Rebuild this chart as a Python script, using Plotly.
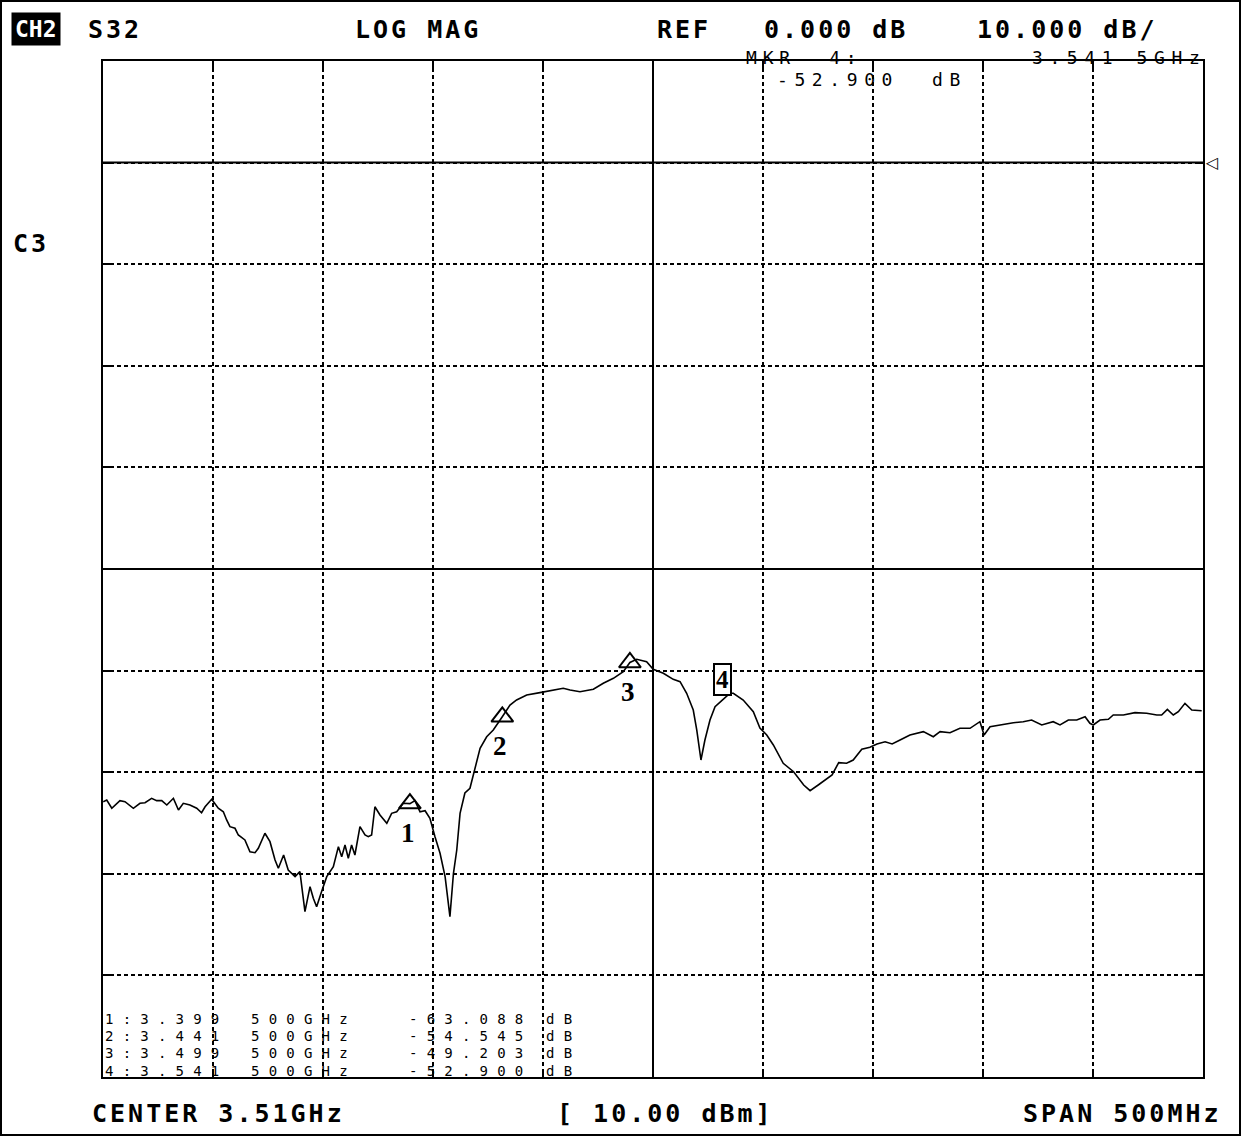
import plotly.graph_objects as go

# ---------------- data ----------------
FREQ_MHZ = [
    3260.1, 3261.7, 3264.0, 3267.7, 3270.0, 3273.8, 3276.8, 3279.1, 3282.1, 3284.4,
    3286.7, 3289.0, 3292.0, 3294.3, 3296.5, 3299.5, 3302.6, 3304.8, 3306.4, 3309.4,
    3312.4, 3314.7, 3316.2, 3317.7, 3320.0, 3321.5, 3324.5, 3326.8, 3329.1, 3330.6,
    3333.6, 3335.9, 3338.2, 3339.7, 3342.1, 3344.2, 3347.3, 3349.5, 3351.8, 3354.1,
    3355.6, 3357.1, 3359.6, 3361.7, 3364.7, 3367.0, 3368.5, 3370.0, 3371.5, 3373.0,
    3374.5, 3376.8, 3379.1, 3380.6, 3382.1, 3383.6, 3385.9, 3389.0, 3391.2, 3393.5,
    3396.5, 3399.5, 3401.8, 3404.1, 3406.4, 3408.6, 3410.9, 3413.2, 3415.5, 3417.0,
    3417.7, 3419.3, 3420.8, 3422.3, 3424.5, 3426.8, 3429.1, 3431.4, 3434.4, 3437.4,
    3441.5, 3445.0, 3448.0, 3452.6, 3458.6, 3464.7, 3469.2, 3472.3, 3476.8, 3482.9,
    3487.4, 3492.0, 3496.5, 3499.5, 3502.6, 3507.1, 3510.1, 3514.7, 3519.2, 3522.3,
    3525.3, 3528.3, 3529.9, 3531.8, 3533.6, 3535.9, 3538.2, 3541.5, 3545.0, 3546.5,
    3551.0, 3555.6, 3558.6, 3561.7, 3564.7, 3569.2, 3573.9, 3578.5, 3581.4, 3585.1,
    3591.4, 3594.4, 3598.0, 3601.0, 3604.9, 3608.6, 3611.8, 3615.5, 3618.7, 3622.3,
    3626.8, 3632.9, 3637.4, 3640.5, 3645.0, 3649.5, 3654.1, 3658.6, 3660.5, 3663.2,
    3667.7, 3673.8, 3678.3, 3682.1, 3686.7, 3691.9, 3695.0, 3698.8, 3702.6, 3706.4,
    3708.6, 3710.1, 3713.2, 3717.0, 3719.2, 3723.8, 3729.1, 3734.4, 3739.0, 3741.2,
    3743.8, 3746.5, 3748.8, 3751.8, 3754.9, 3759.4,
]
S32_DB = [
    -62.90, -62.74, -63.55, -62.80, -62.90, -63.55, -63.06, -63.00, -62.57, -62.80,
    -62.80, -63.23, -62.57, -63.72, -63.06, -63.23, -63.55, -63.99, -63.40, -62.67,
    -63.55, -63.89, -64.70, -65.36, -65.52, -66.18, -66.67, -67.83, -67.92, -67.49,
    -66.01, -66.84, -68.64, -69.46, -68.15, -69.63, -70.28, -69.79, -73.73, -71.27,
    -72.41, -73.24, -71.59, -70.28, -69.30, -67.33, -68.32, -67.17, -68.47, -67.17,
    -68.15, -65.36, -66.18, -66.35, -66.18, -63.40, -64.21, -65.03, -64.05, -63.89,
    -63.06, -63.09, -62.80, -63.89, -63.79, -64.54, -66.35, -67.98, -70.28, -73.24,
    -74.22, -69.95, -67.66, -64.05, -62.05, -61.58, -59.49, -57.65, -56.51, -55.85,
    -54.54, -53.39, -52.89, -52.40, -52.17, -51.91, -51.74, -51.91, -52.08, -51.84,
    -51.25, -50.76, -50.11, -49.20, -48.89, -49.12, -49.87, -50.27, -50.86, -51.09,
    -52.23, -53.88, -55.85, -58.80, -56.83, -54.86, -53.55, -52.90, -52.23, -52.23,
    -52.90, -54.05, -55.65, -56.34, -57.32, -59.12, -59.95, -61.26, -61.82, -61.26,
    -60.27, -59.06, -59.12, -58.80, -57.74, -57.55, -57.22, -57.00, -57.22, -56.83,
    -56.34, -56.01, -56.51, -56.01, -56.11, -55.68, -55.68, -55.03, -56.34, -55.52,
    -55.35, -55.13, -55.03, -54.86, -55.35, -55.03, -55.35, -54.86, -54.86, -54.54,
    -55.19, -55.35, -54.86, -54.79, -54.37, -54.37, -54.14, -54.20, -54.37, -54.37,
    -53.81, -54.37, -54.04, -53.22, -53.88, -53.95,
]

MARKER_IDS = ["1", "2", "3", "4"]
MARKER_FREQ_MHZ = [3399.5, 3441.5, 3499.5, 3541.5]
MARKER_DB = [-63.088, -54.545, -49.203, -52.900]
MARKER_FREQ_TXT = ["3.399", "3.441", "3.499", "3.541"]
MARKER_FREQ_UNIT = ["500GHz", "500GHz", "500GHz", "500GHz"]
MARKER_DB_TXT = ["-63.088", "-54.545", "-49.203", "-52.900"]
ACTIVE_MARKER = 3  # index of marker 4
ACTIVE_FREQ_TXT = "3.541 5GHz"

CENTER_MHZ = 3510.0
SPAN_MHZ = 500.0
REF_DB = 0.0
SCALE_DB = 10.0
REF_POS_DIV = 9          # reference line position (divisions from bottom)
N_DIV = 10

# ---------------- layout constants ----------------
W, H = 1241, 1136
L, R, T, B = 103, 38, 61, 59
PW, PH = W - L - R, H - T - B


def px(x):
    return (x - L) / PW


def py(y):
    return 1 - (y - T) / PH


f_lo = CENTER_MHZ - SPAN_MHZ / 2
f_hi = CENTER_MHZ + SPAN_MHZ / 2
y_hi = REF_DB + (N_DIV - REF_POS_DIV) * SCALE_DB
y_lo = REF_DB - REF_POS_DIV * SCALE_DB
y_mid = (y_hi + y_lo) / 2

MONO = "DejaVu Sans Mono"


def spaced(text, ls):
    return f'<span style="letter-spacing:{ls}px">{text}</span>'


fig = go.Figure()

fig.add_trace(go.Scatter(
    x=FREQ_MHZ, y=S32_DB, mode="lines",
    line=dict(color="black", width=1.6), hoverinfo="skip", showlegend=False,
))

# triangle markers 1..3
tri_idx = [i for i in range(len(MARKER_IDS)) if i != ACTIVE_MARKER]
fig.add_trace(go.Scatter(
    x=[MARKER_FREQ_MHZ[i] for i in tri_idx],
    y=[MARKER_DB[i] for i in tri_idx],
    mode="markers",
    marker=dict(symbol="triangle-up-open", size=19, color="black",
                line=dict(color="black", width=2)),
    hoverinfo="skip", showlegend=False, cliponaxis=False,
))

ann = []
for i in tri_idx:
    ann.append(dict(x=MARKER_FREQ_MHZ[i], y=MARKER_DB[i], xref="x", yref="y",
                    text=f"<b>{MARKER_IDS[i]}</b>", showarrow=False, yshift=-29,
                    xshift=-2,
                    font=dict(family="Liberation Serif", size=27, color="black")))
ann.append(dict(x=MARKER_FREQ_MHZ[ACTIVE_MARKER], y=MARKER_DB[ACTIVE_MARKER],
                xref="x", yref="y", text=f"<b>{MARKER_IDS[ACTIVE_MARKER]}</b>",
                showarrow=False, yshift=21, bordercolor="black", borderwidth=2,
                borderpad=1, bgcolor="white",
                font=dict(family="Liberation Serif", size=25, color="black")))

# header
hdr = dict(family=MONO, size=25, color="black")
ann.append(dict(x=px(11), y=py(29), xref="paper", yref="paper", xanchor="left",
                yanchor="middle", text="<b>CH2</b>", showarrow=False,
                bgcolor="black", borderpad=3,
                font=dict(family=MONO, size=23, color="white")))
for txt, xl, ls in [("S32", 86, 3), ("LOG MAG", 353, 3), ("REF", 655, 3),
                    ("0.000 dB", 762, 3), ("10.000 dB/", 975, 3)]:
    ann.append(dict(x=px(xl), y=py(29), xref="paper", yref="paper", xanchor="left",
                    yanchor="middle", text=spaced(f"<b>{txt}</b>", ls),
                    showarrow=False, font=hdr))

thin = dict(family=MONO, size=18, color="black")
TLS = 6.6
# active marker readout
ann.append(dict(x=px(744), y=py(57), xref="paper", yref="paper", xanchor="left",
                yanchor="middle", text=spaced(f"MKR  {MARKER_IDS[ACTIVE_MARKER]}:", 5.8),
                showarrow=False, font=thin))
ann.append(dict(x=px(1208), y=py(57), xref="paper", yref="paper", xanchor="right",
                yanchor="middle", text=spaced(ACTIVE_FREQ_TXT, TLS),
                showarrow=False, font=thin))
ann.append(dict(x=px(775), y=py(80), xref="paper", yref="paper", xanchor="left",
                yanchor="middle", text=spaced(MARKER_DB_TXT[ACTIVE_MARKER], TLS),
                showarrow=False, font=thin))
ann.append(dict(x=px(930), y=py(80), xref="paper", yref="paper", xanchor="left",
                yanchor="middle", text=spaced("dB", TLS),
                showarrow=False, font=thin))

# channel label
ann.append(dict(x=px(11), y=py(243), xref="paper", yref="paper", xanchor="left",
                yanchor="middle", text=spaced("<b>C3</b>", 3), showarrow=False, font=hdr))

# marker table
row_y = [1019, 1036, 1053, 1071]
tbl = dict(family=MONO, size=14, color="black")
for i in range(len(MARKER_IDS)):
    for txt, xl in [(f"{MARKER_IDS[i]}:{MARKER_FREQ_TXT[i]}", 104),
                    (MARKER_FREQ_UNIT[i], 250),
                    (MARKER_DB_TXT[i], 408),
                    ("dB", 545)]:
        ann.append(dict(x=px(xl), y=py(row_y[i]), xref="paper", yref="paper",
                        xanchor="left", yanchor="middle", text=spaced(txt, 9.2),
                        showarrow=False, borderpad=0, font=tbl))

# footer
for txt, xl, anchor in [("CENTER 3.51GHz", 90, "left"), ("[ 10.00 dBm]", 555, "left"),
                        ("SPAN 500MHz", 1224, "right")]:
    ann.append(dict(x=px(xl), y=py(1113), xref="paper", yref="paper", xanchor=anchor,
                    yanchor="middle", text=spaced(f"<b>{txt}</b>", 3), showarrow=False,
                    font=hdr))

# reference position indicator
ann.append(dict(x=1, y=REF_DB, xref="paper", yref="y", xanchor="left", yanchor="middle",
                xshift=0, text="<b>◁</b>", showarrow=False,
                font=dict(family="DejaVu Sans", size=16, color="black")))

shapes = [
    # solid reference line and centre graticule lines
    dict(type="line", xref="paper", x0=0, x1=1, yref="y", y0=REF_DB, y1=REF_DB,
         line=dict(color="black", width=2)),
    dict(type="line", xref="paper", x0=0, x1=1, yref="y", y0=y_mid, y1=y_mid,
         line=dict(color="black", width=2)),
    dict(type="line", xref="x", x0=CENTER_MHZ, x1=CENTER_MHZ, yref="paper", y0=0, y1=1,
         line=dict(color="black", width=2)),
    # outer frame of the screen
    dict(type="rect", xref="paper", yref="paper", x0=px(1), x1=px(W - 1), y0=py(H - 1),
         y1=py(1), line=dict(color="black", width=2), layer="below"),
]

axis_common = dict(
    showgrid=True, gridcolor="black", gridwidth=2, griddash="4px,3px",
    zeroline=False, showline=True, linecolor="black", linewidth=2, mirror="ticks",
    ticks="inside", ticklen=7, tickwidth=2, tickcolor="black", showticklabels=False,
    fixedrange=True,
)

fig.update_layout(
    width=W, height=H, margin=dict(l=L, r=R, t=T, b=B, pad=0),
    paper_bgcolor="white", plot_bgcolor="white",
    xaxis=dict(range=[f_lo, f_hi], dtick=SPAN_MHZ / N_DIV, tick0=f_lo, **axis_common),
    yaxis=dict(range=[y_lo, y_hi], dtick=SCALE_DB, tick0=y_lo, **axis_common),
    annotations=ann, shapes=shapes, showlegend=False,
)

fig.write_html("out.html", config={"displayModeBar": False},
               post_script="document.body.style.margin='0';document.body.style.overflow='hidden';")
